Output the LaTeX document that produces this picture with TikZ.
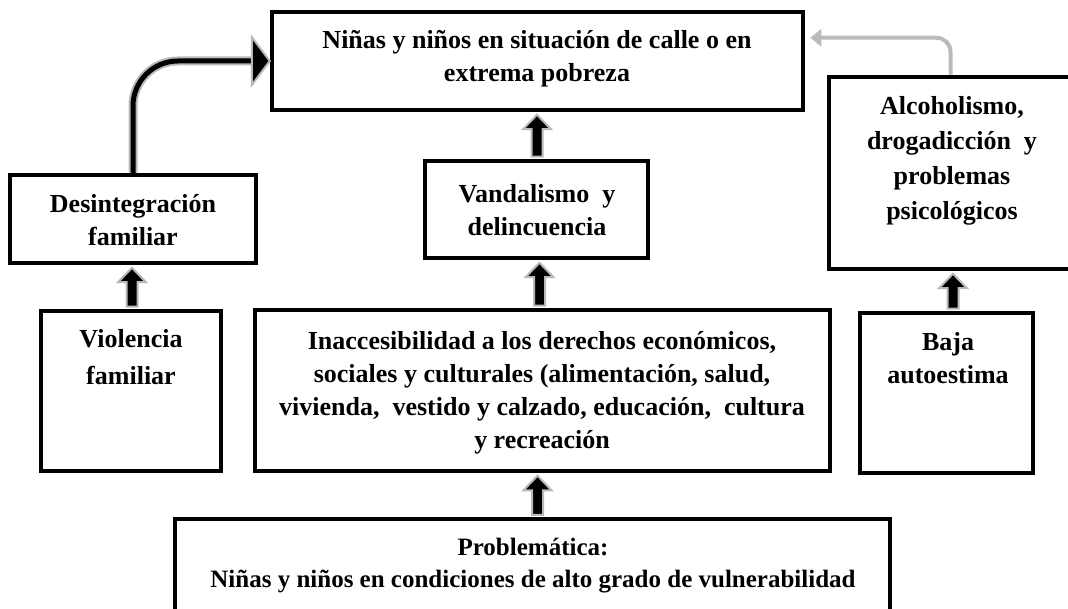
\documentclass[tikz,border=0pt]{standalone}
\usepackage{fontspec}
\setmainfont{Liberation Serif}
\usetikzlibrary{calc,arrows.meta}
\newcommand\blkarrow[2]{%
  \draw[blk] let \p1=(#1.north), \p2=(#2.south), \n1={(\x1+\x2)/2} in
    (\n1-5.5pt,\y1+2pt) -- (\n1-5.5pt,\y2-17pt) -- (\n1-14pt,\y2-17pt) --
    (\n1,\y2-2.5pt) -- (\n1+14pt,\y2-17pt) -- (\n1+5.5pt,\y2-17pt) --
    (\n1+5.5pt,\y1+2pt) -- cycle;}
\begin{document}
\begin{tikzpicture}[x=1pt,y=-1pt,
  box/.style={draw=black, line width=4.5pt, inner sep=0pt, fill=white},
  txt/.style={font=\bfseries\fontsize{26}{33}\selectfont, align=center, inner sep=0pt},
  blk/.style={draw=black!28, line width=2pt, fill=black, line join=miter},
  grayconn/.style={draw=black!27, line width=4pt, rounded corners=14pt}]
\useasboundingbox (0,0) rectangle (1068,609);
% boxes
\node[box, minimum width=531pt, minimum height=98pt] (top) at (537.5,61) {};
\node[box, minimum width=246pt, minimum height=88pt] (des) at (133,219) {};
\node[box, minimum width=223pt, minimum height=97pt] (van) at (536.5,209.5) {};
\node[box, minimum width=261pt, minimum height=192pt] (alc) at (959.5,173) {};
\node[box, minimum width=180pt, minimum height=160pt] (vio) at (131,391) {};
\node[box, minimum width=575pt, minimum height=161pt] (ina) at (542.5,390.5) {};
\node[box, minimum width=173pt, minimum height=160pt] (baj) at (946.5,393) {};
\node[box, minimum width=715pt, minimum height=93pt] (pro) at (532.5,565.5) {};
% texts
\node[txt] (topt) at (537,59) {Niñas y niños en situación de calle o en\\extrema pobreza};
\node[txt] (dest) at (133,220) {Desintegración\\familiar};
\node[txt] (vant) at (537,210) {Vandalismo~ y\\delincuencia};
\node[txt, font=\bfseries\fontsize{26}{35}\selectfont] (alct) at (952,161) {Alcoholismo,\\drogadicción~ y\\problemas\\psicológicos};
\node[txt, font=\bfseries\fontsize{26}{37}\selectfont] (viot) at (131,357) {Violencia\\familiar};
\node[txt] (bajt) at (948,358) {Baja\\autoestima};
\node[txt] (inat) at (542,393) {Inaccesibilidad a los derechos económicos,\\sociales y culturales (alimentación, salud,\\vivienda,~ vestido y calzado, educación,~ cultura\\y recreación};
\node[txt, font=\bfseries\fontsize{25}{32}\selectfont] (prot) at (533,566) {Problemática:\\Niñas y niños en condiciones de alto grado de vulnerabilidad};
% block arrows
\blkarrow{vio}{des}
\blkarrow{ina}{van}
\blkarrow{van}{top}
\blkarrow{baj}{alc}
\blkarrow{pro}{ina}
% curved arrow from des to top
\coordinate (hb) at ($(top.west)+(-18,0)$);
\draw[draw=black!28, line width=9pt, rounded corners=45pt] (des.north) |- (hb);
\draw[draw=black, line width=5pt, rounded corners=45pt] ([yshift=-3pt]des.north) |- ([xshift=1pt]hb);
\draw[blk] ($(hb)+(0,-24)$) -- (top.west) -- ($(hb)+(0,24)$) -- cycle;
% gray arrow from alc to top
\coordinate (ge) at ($(top.north east)+(5,28)$);
\draw[grayconn, -{Triangle[length=11pt,width=17pt]}] ([xshift=-9pt]alc.north) |- (ge);
\end{tikzpicture}
\end{document}
